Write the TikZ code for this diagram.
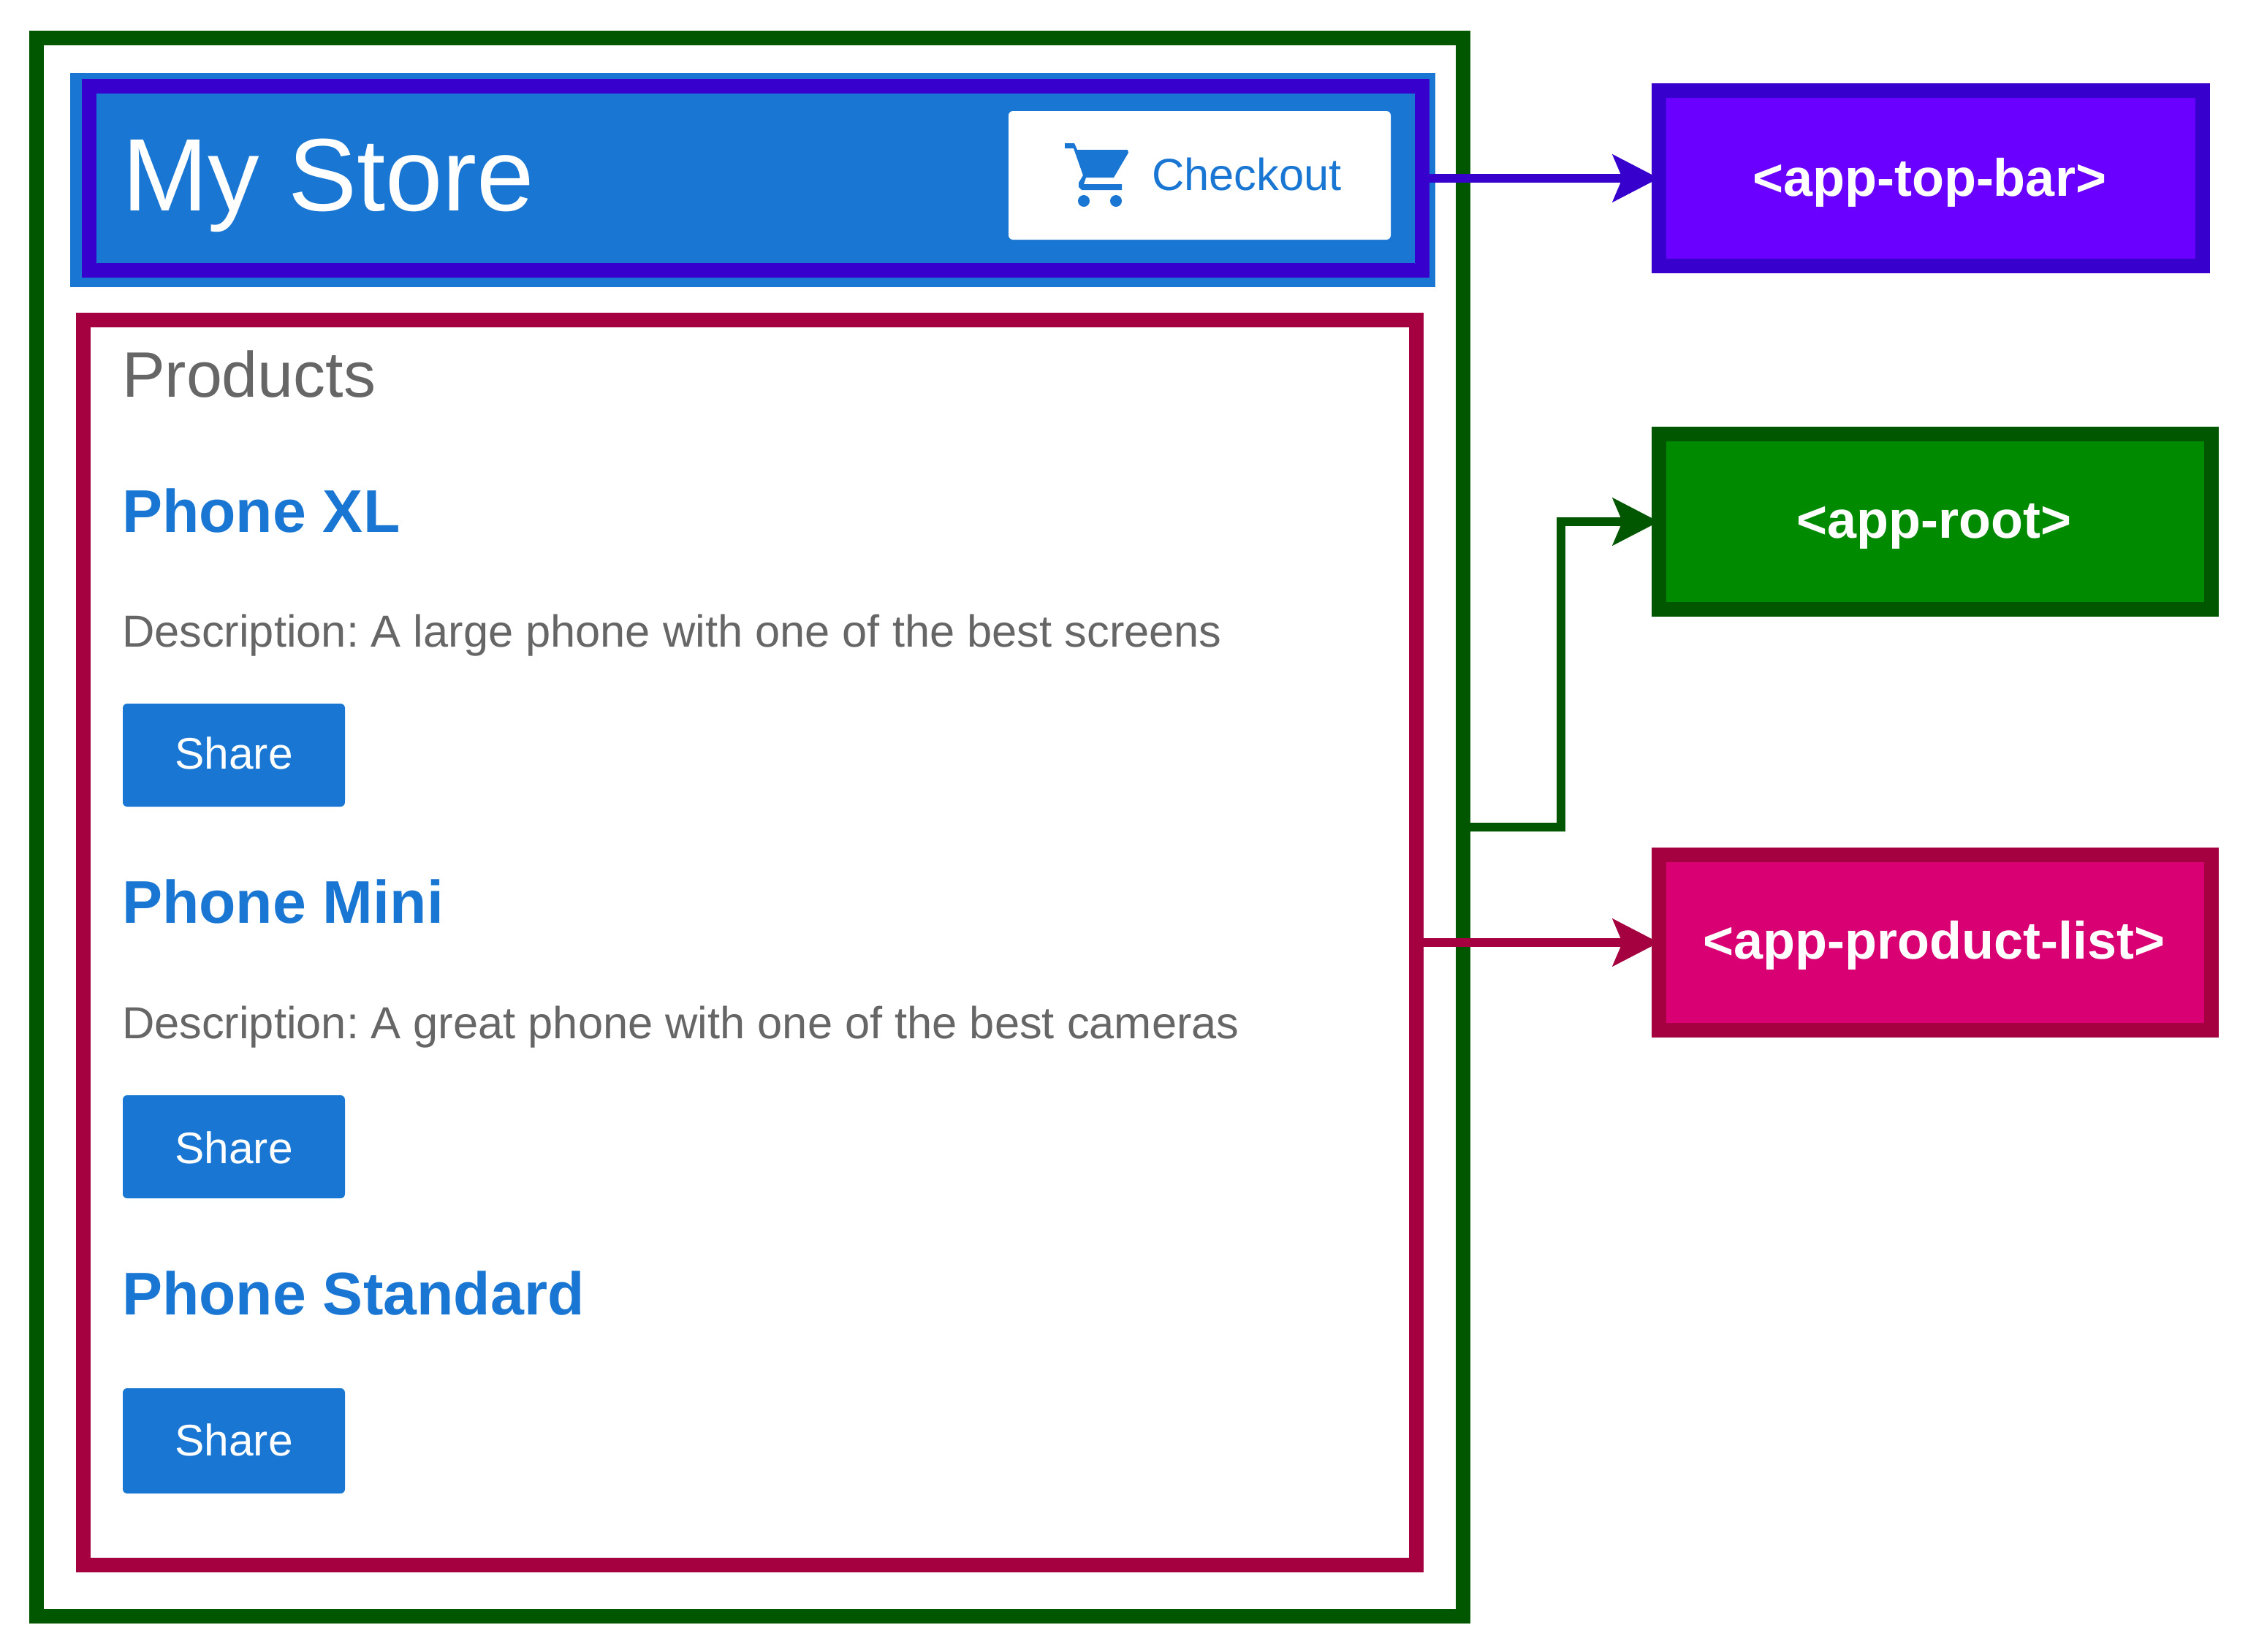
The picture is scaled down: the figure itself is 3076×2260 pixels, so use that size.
\documentclass[tikz,border=0pt]{standalone}
\usepackage{fontspec}
\setmainfont{Liberation Sans}
\usetikzlibrary{arrows.meta}
\definecolor{dkgreen}{HTML}{005700}
\definecolor{fgreen}{HTML}{008A00}
\definecolor{dkpurple}{HTML}{3700CC}
\definecolor{fpurple}{HTML}{6A00FF}
\definecolor{dkpink}{HTML}{A50040}
\definecolor{fpink}{HTML}{D80073}
\definecolor{hblue}{HTML}{1976D2}
\definecolor{greytext}{HTML}{666666}
\newcommand{\fsz}[1]{\fontsize{#1}{#1}\selectfont}
\tikzset{
  frame/.style={draw=#1,line width=20pt,inner sep=0pt,fill=none},
  solid box/.style={inner sep=0pt,outer sep=0pt,fill=hblue},
  label box/.style n args={2}{draw=#1,fill=#2,line width=20pt,inner sep=0pt,text=white,
     font=\fsz{72}\bfseries,text height=50pt,text depth=6pt,execute at begin node={\kern-4pt}},
  txt/.style={anchor=base west,inner sep=0pt,outer sep=0pt},
  head/.style={txt,font=\fsz{82.5}\bfseries,text=hblue},
  descr/.style={txt,font=\fsz{61.4},text=greytext},
  share/.style={solid box,rounded corners=6pt,minimum width=304pt,minimum height=141pt,
     text=white,font=\fsz{60.5},text depth=6pt},
  conn/.style={draw=#1,line width=12pt,shorten >=-10pt,-{Stealth[length=63pt,width=64pt,inset=13pt,fill=#1]}}
}
\begin{document}
\begin{tikzpicture}[x=1pt,y=-1pt]
\useasboundingbox (0,0) rectangle (3076,2260);
\node[frame=dkgreen,minimum width=1952pt,minimum height=2160pt] (root) at (1026,1132) {};
\node[solid box,minimum width=1868pt,minimum height=293pt] (bar) at (1030,246.5) {};
\node[frame=dkpurple,minimum width=1824pt,minimum height=252pt] (barframe) at (1034,244) {};
\node[frame=dkpink,minimum width=1824pt,minimum height=1704pt] (list) at (1026,1290) {};
\node[txt,font=\fsz{141},text=white] (title) at (167,288) {My Store};
\node[solid box,fill=white,rounded corners=6pt,minimum width=523pt,minimum height=176pt] (checkoutbtn) at (1641.5,240) {};
\node[txt,font=\fsz{61.4},text=hblue] (checkout) at (1576,260) {Checkout};
\fill[hblue] (1457,196) -- (1470,196) -- (1474,205) -- (1543,205) -- (1544,209) -- (1524,243) -- (1486,243) -- (1483,252) -- (1535,252) -- (1535,260) -- (1480,260) -- (1476,256) -- (1476,250) -- (1482,240) -- (1469,203) -- (1457,203) -- cycle;
\fill[hblue] (1483,275) circle[radius=8] (1527,275) circle[radius=8];
\node[txt,font=\fsz{88},text=greytext] (products) at (167,543) {Products};
\node[head] (p1) at (167,728) {Phone XL};
\node[descr] (d1) at (167,885) {Description:\kern-6pt{} A large phone with one of the best screens};
\node[share,text height=43pt] (s1) at (320,1033.5) {Share};
\node[head] (p2) at (167,1263) {Phone Mini};
\node[descr] (d2) at (167,1421) {Description:\kern-6pt{} A great phone with one of the best cameras};
\node[share,text height=51pt] (s2) at (320,1569.5) {Share};
\node[head] (p3) at (167,1799) {Phone Standard};
\node[share,minimum height=144pt,text height=46pt] (s3) at (320,1972) {Share};
\node[label box={dkpurple}{fpurple},minimum width=744pt,minimum height=240pt,text height=54pt] (ltop) at (2642,244) {<app-top-bar>};
\node[label box={dkgreen}{fgreen},minimum width=756pt,minimum height=240pt] (lroot) at (2648,714) {<app-root>};
\node[label box={dkpink}{fpink},minimum width=756pt,minimum height=240pt] (llist) at (2648,1290) {<app-product-list>};
\coordinate (bend) at (2136,900);
\draw[conn=dkgreen] (root.east) -| (bend) |- (lroot.west);
\draw[conn=dkpurple] (barframe.east) -- (ltop.west);
\draw[conn=dkpink] (list.east) -- (llist.west);
\end{tikzpicture}
\end{document}
